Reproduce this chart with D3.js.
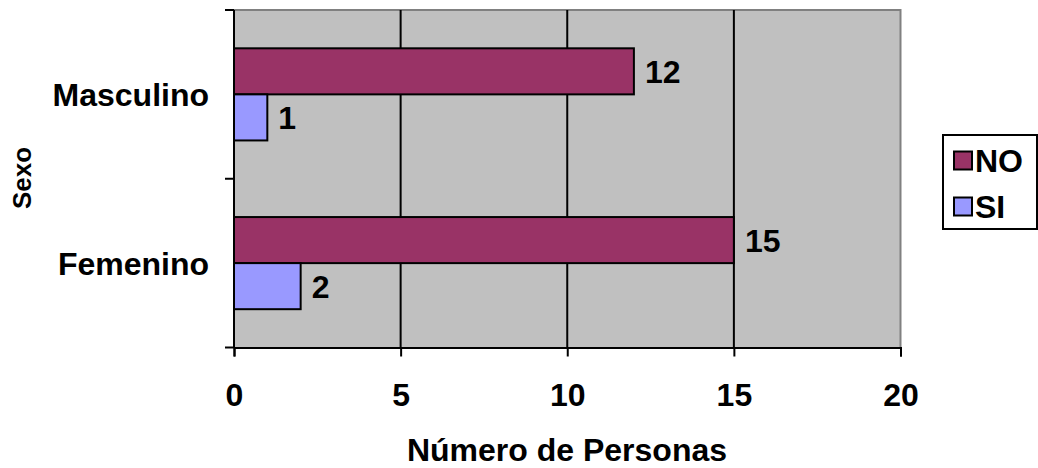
<!DOCTYPE html>
<html><head><meta charset="utf-8">
<script src="https://cdn.jsdelivr.net/npm/d3@7"></script>
<style>body{margin:0;background:#fff}svg{display:block}text{font-family:"Liberation Sans",Arial,sans-serif;font-weight:bold;fill:#000}</style>
</head><body>
<script>
const categories = ["Masculino", "Femenino"];
const seriesNames = ["NO", "SI"];
const valuesNO = [12, 15];
const valuesSI = [1, 2];
const xTicks = [0, 5, 10, 15, 20];
const colors = {NO: "#993366", SI: "#9999FF"};

const W = 1038, H = 468;
const L = 234, R = 900.5, T = 10, B = 347.5;
const FS = 32;
const svg = d3.select("body").append("svg").attr("width", W).attr("height", H);

const x = d3.scaleLinear().domain([0, 20]).range([L, R]);
const y = d3.scaleBand().domain(categories).range([T, B]).paddingInner(0.454).paddingOuter(0.227);
const ySub = d3.scaleBand().domain(seriesNames).range([0, y.bandwidth()]);

const rows = categories.map((c, i) => ({cat: c, NO: valuesNO[i], SI: valuesSI[i]}));

// plot area
svg.append("rect").attr("x", L).attr("y", T).attr("width", R - L).attr("height", B - T).attr("fill", "#C0C0C0");
svg.append("path").attr("d", `M${L},${T}H${R}V${B}`).attr("fill", "none").attr("stroke", "#808080").attr("stroke-width", 2);

// gridlines
svg.append("g").selectAll("line").data(xTicks.filter(t => t > 0 && t < 20)).join("line")
  .attr("x1", d => x(d)).attr("x2", d => x(d)).attr("y1", T).attr("y2", B)
  .attr("stroke", "#000").attr("stroke-width", 2);

// bars
const g = svg.append("g").selectAll("g").data(rows).join("g")
  .attr("transform", d => `translate(0,${y(d.cat)})`);
seriesNames.forEach(s => {
  g.append("rect")
    .attr("x", x(0)).attr("y", ySub(s))
    .attr("width", d => x(d[s]) - x(0)).attr("height", ySub.bandwidth())
    .attr("fill", colors[s]).attr("stroke", "#000").attr("stroke-width", 2);
  g.append("text")
    .attr("x", d => x(d[s]) + 11).attr("y", ySub(s) + ySub.bandwidth() / 2)
    .attr("dy", "0.36em").attr("font-size", FS)
    .text(d => d[s]);
});

// x axis
const xAxis = d3.axisBottom(x).tickValues(xTicks).tickSize(9).tickPadding(27);
const xa = svg.append("g").attr("transform", `translate(0,${B})`).call(xAxis);
xa.select(".domain").attr("stroke", "#000").attr("stroke-width", 2);
xa.selectAll(".tick line").attr("stroke", "#000").attr("stroke-width", 2);
xa.selectAll(".tick text").attr("font-size", FS).attr("font-family", "Liberation Sans, Arial").attr("font-weight", "bold").attr("fill", "#000");

// y axis line with ticks at category boundaries
const yBounds = [T, (T + B) / 2, B];
svg.append("line").attr("x1", L).attr("x2", L).attr("y1", T).attr("y2", B).attr("stroke", "#000").attr("stroke-width", 2);
svg.append("g").selectAll("line").data(yBounds).join("line")
  .attr("x1", L - 9).attr("x2", L).attr("y1", d => d).attr("y2", d => d)
  .attr("stroke", "#000").attr("stroke-width", 2);
svg.append("g").selectAll("text").data(categories).join("text")
  .attr("x", L - 25).attr("y", d => y(d) + y.bandwidth() / 2)
  .attr("dy", "0.36em").attr("text-anchor", "end").attr("font-size", FS)
  .text(d => d);

// axis titles
svg.append("text").attr("x", 567).attr("y", 461).attr("text-anchor", "middle").attr("font-size", FS).text("Número de Personas");
svg.append("text").attr("transform", "translate(31,178) rotate(-90)").attr("text-anchor", "middle").attr("font-size", 26).text("Sexo");

// legend
const lg = svg.append("g");
lg.append("rect").attr("x", 943).attr("y", 135).attr("width", 94).attr("height", 94).attr("fill", "#fff").attr("stroke", "#000").attr("stroke-width", 2);
seriesNames.forEach((s, i) => {
  const cy = 160.5 + i * 46;
  lg.append("rect").attr("x", 954).attr("y", cy - 9).attr("width", 18).attr("height", 18).attr("fill", colors[s]).attr("stroke", "#000").attr("stroke-width", 2);
  lg.append("text").attr("x", 975).attr("y", cy).attr("dy", "0.36em").attr("font-size", FS).text(s);
});
</script>
</body></html>
